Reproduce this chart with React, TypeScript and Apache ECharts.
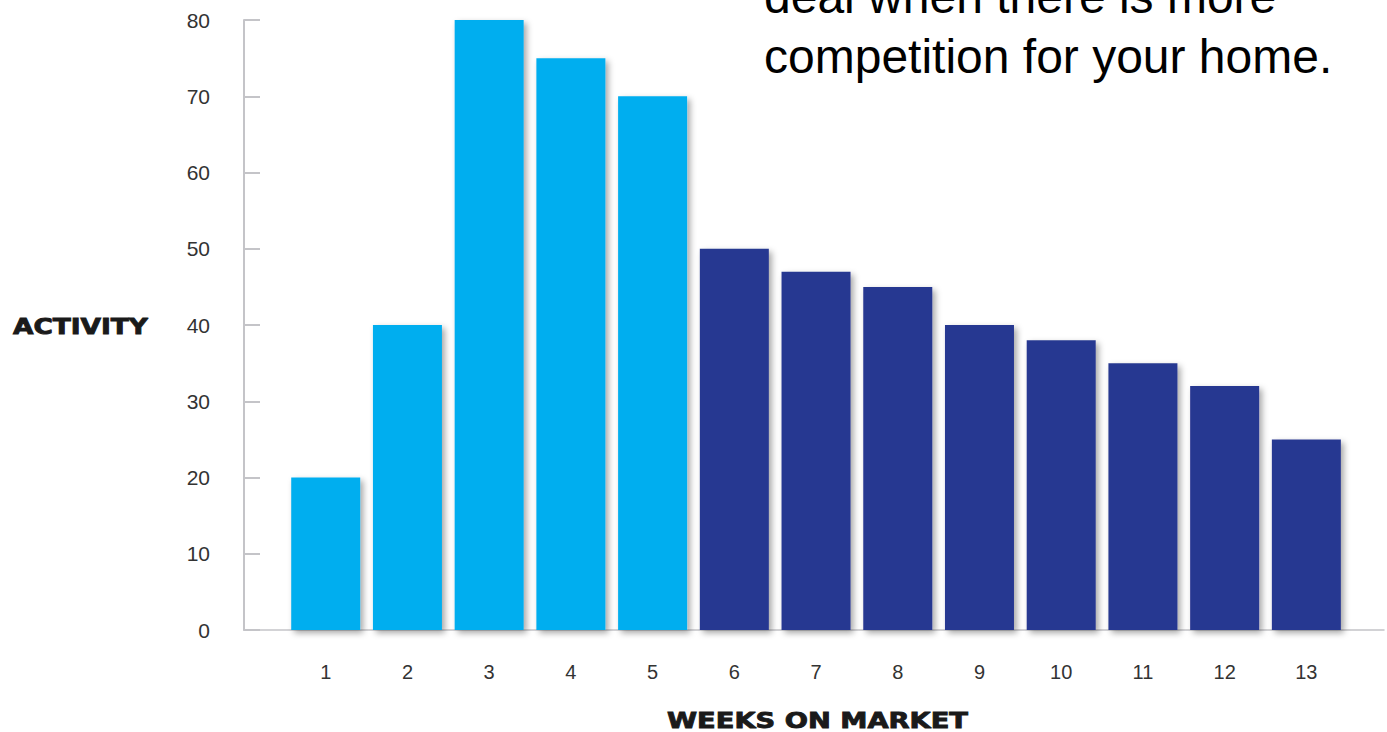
import React, { useEffect, useRef } from "react";
import * as echarts from "echarts";

const weeks = [1, 2, 3, 4, 5, 6, 7, 8, 9, 10, 11, 12, 13];
const activity = [20, 40, 80, 75, 70, 50, 47, 45, 40, 38, 35, 32, 25];
const earlyWeekCount = 5;
const yTicks = { min: 0, max: 80, interval: 10 };
const headline = ["deal when there is more", "competition for your home."];
const yTitle = "ACTIVITY";
const xTitle = "WEEKS ON MARKET";

const LIGHT = "#00AEEF";
const DARK = "#283891";

function measure(text: string, font: string): number {
  const c = document.createElement("canvas");
  const ctx = c.getContext("2d");
  if (!ctx) return 100;
  ctx.font = font;
  return ctx.measureText(text).width;
}

export default function App() {
  const ref = useRef<HTMLDivElement>(null);
  useEffect(() => {
    if (!ref.current) return;
    const chart = echarts.init(ref.current, undefined, { renderer: "svg" });
    const titleFont = "bold 22px 'DejaVu Sans'";
    const yW = measure(yTitle, titleFont);
    const xW = measure(xTitle, titleFont);
    const ySX = 135 / yW;
    const xSX = 301 / xW;

    chart.setOption({
      animation: false,
      backgroundColor: "#ffffff",
      grid: { left: 244, right: 0, top: 20, bottom: 102, containLabel: false },
      xAxis: {
        type: "value",
        min: 0,
        max: 13.95,
        interval: 1,
        axisLine: { show: true, lineStyle: { color: "#c4c4c8", width: 1.5 } },
        axisTick: { show: false },
        splitLine: { show: false },
        axisLabel: {
          margin: 32,
          fontSize: 20,
          color: "#333",
          fontFamily: "'Liberation Sans', Arial, sans-serif",
          formatter: (v: number) =>
            Number.isInteger(v) && v >= weeks[0] && v <= weeks[weeks.length - 1] ? String(v) : "",
        },
      },
      yAxis: {
        type: "value",
        min: yTicks.min,
        max: yTicks.max,
        interval: yTicks.interval,
        axisLine: { show: true, lineStyle: { color: "#c4c4c8", width: 2 } },
        axisTick: { show: true, inside: true, length: 16, lineStyle: { color: "#c4c4c8", width: 2 } },
        splitLine: { show: false },
        axisLabel: {
          margin: 34,
          fontSize: 21,
          color: "#333",
          fontFamily: "'Liberation Sans', Arial, sans-serif",
        },
      },
      series: [
        {
          type: "bar",
          barWidth: 69,
          data: activity.map((v, i) => ({
            value: [weeks[i], v],
            itemStyle: { color: i < earlyWeekCount ? LIGHT : DARK },
          })),
          itemStyle: {
            shadowBlur: 6,
            shadowColor: "rgba(0,0,0,0.35)",
            shadowOffsetX: 3,
            shadowOffsetY: 3,
          },
        },
      ],
      graphic: [
        {
          type: "text",
          x: 764,
          y: -4,
          style: {
            text: headline[0],
            font: "48px 'Liberation Sans', Arial, sans-serif",
            fill: "#000",
            textAlign: "left",
            textVerticalAlign: "middle",
          },
        },
        {
          type: "text",
          x: 764,
          y: 56,
          style: {
            text: headline[1],
            font: "48px 'Liberation Sans', Arial, sans-serif",
            fill: "#000",
            textAlign: "left",
            textVerticalAlign: "middle",
          },
        },
        {
          type: "text",
          x: 13,
          y: 326,
          scaleX: ySX,
          style: {
            text: yTitle,
            font: titleFont,
            fill: "#1a1a1a",
            stroke: "#1a1a1a",
            lineWidth: 0.9,
            textAlign: "left",
            textVerticalAlign: "middle",
          },
        },
        {
          type: "text",
          x: 667,
          y: 720,
          scaleX: xSX,
          style: {
            text: xTitle,
            font: titleFont,
            fill: "#1a1a1a",
            stroke: "#1a1a1a",
            lineWidth: 0.9,
            textAlign: "left",
            textVerticalAlign: "middle",
          },
        },
      ],
    });
    return () => chart.dispose();
  }, []);
  return (
    <div
      ref={ref}
      style={{ position: "absolute", left: 0, top: 0, width: 1387, height: 732 }}
    />
  );
}
